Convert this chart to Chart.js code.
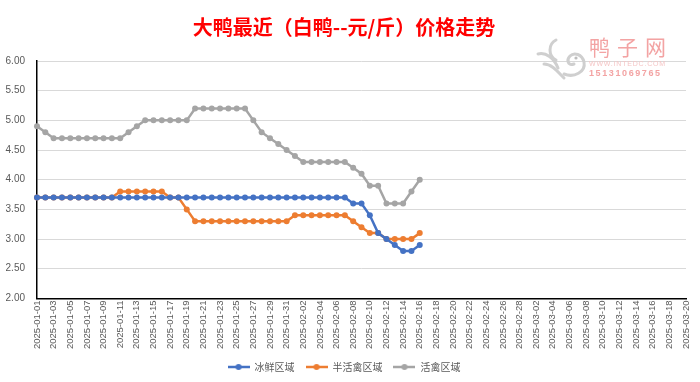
<!DOCTYPE html>
<html>
<head>
<meta charset="utf-8">
<script src="https://cdn.jsdelivr.net/npm/chart.js@4/dist/chart.umd.min.js"></script>
<style>
  html, body { margin: 0; padding: 0; background: #fff; }
  #wrap { position: relative; width: 700px; height: 382px; }
  #mark { position: absolute; left: 589px; top: 33px; font-family: "Noto Sans CJK SC", sans-serif; color: #f3a3a3; pointer-events: none; }
  #mark .big { font-size: 21px; letter-spacing: 7px; line-height: 26px; }
  #mark .url { font-size: 7px; color: #f5c6c6; line-height: 9px; letter-spacing: 0.8px; font-family: "Liberation Sans", sans-serif; }
  #mark .tel { font-size: 9px; font-weight: bold; line-height: 11px; letter-spacing: 1.6px; font-family: "Liberation Sans", sans-serif; }
  #bird { position: absolute; left: 534px; top: 34px; pointer-events: none; }
</style>
</head>
<body>
<div id="wrap">
  <canvas id="chart" width="700" height="382"></canvas>
  <svg id="bird" width="60" height="48" viewBox="0 0 60 48">
    <g fill="none" stroke="#cfcfcf" stroke-width="3" stroke-linecap="round">
      <path d="M22 6 C14 10 14 22 22 26"/>
      <path d="M4 20 C12 18 20 24 24 34"/>
      <path d="M10 30 C18 30 24 38 30 44"/>
      <path d="M30 40 C40 44 52 38 50 28 C48 20 40 18 36 22 C32 26 34 32 40 30"/>
    </g>
    <circle cx="42" cy="24" r="1.6" fill="#bdbdbd"/>
  </svg>
  <div id="mark">
    <div class="big">鸭子网</div>
    <div class="url">WWW.INTEDC.COM</div>
    <div class="tel">15131069765</div>
  </div>
</div>
<script>
// 日期（横轴类别）
const dates = [
  "2025-01-01","2025-01-02","2025-01-03","2025-01-04","2025-01-05","2025-01-06","2025-01-07","2025-01-08",
  "2025-01-09","2025-01-10","2025-01-11","2025-01-12","2025-01-13","2025-01-14","2025-01-15","2025-01-16",
  "2025-01-17","2025-01-18","2025-01-19","2025-01-20","2025-01-21","2025-01-22","2025-01-23","2025-01-24",
  "2025-01-25","2025-01-26","2025-01-27","2025-01-28","2025-01-29","2025-01-30","2025-01-31","2025-02-01",
  "2025-02-02","2025-02-03","2025-02-04","2025-02-05","2025-02-06","2025-02-07","2025-02-08","2025-02-09",
  "2025-02-10","2025-02-11","2025-02-12","2025-02-13","2025-02-14","2025-02-15","2025-02-16","2025-02-17",
  "2025-02-18","2025-02-19","2025-02-20","2025-02-21","2025-02-22","2025-02-23","2025-02-24","2025-02-25",
  "2025-02-26","2025-02-27","2025-02-28","2025-03-01","2025-03-02","2025-03-03","2025-03-04","2025-03-05",
  "2025-03-06","2025-03-07","2025-03-08","2025-03-09","2025-03-10","2025-03-11","2025-03-12","2025-03-13",
  "2025-03-14","2025-03-15","2025-03-16","2025-03-17","2025-03-18","2025-03-19","2025-03-20"
];

// 冰鲜区域
const iceFresh = [
  3.7,3.7,3.7,3.7,3.7,3.7,3.7,3.7,3.7,3.7,
  3.7,3.7,3.7,3.7,3.7,3.7,3.7,3.7,3.7,3.7,
  3.7,3.7,3.7,3.7,3.7,3.7,3.7,3.7,3.7,3.7,
  3.7,3.7,3.7,3.7,3.7,3.7,3.7,3.7,3.6,3.6,
  3.4,3.1,3.0,2.9,2.8,2.8,2.9
];
// 半活禽区域
const halfLive = [
  3.7,3.7,3.7,3.7,3.7,3.7,3.7,3.7,3.7,3.7,
  3.8,3.8,3.8,3.8,3.8,3.8,3.7,3.7,3.5,3.3,
  3.3,3.3,3.3,3.3,3.3,3.3,3.3,3.3,3.3,3.3,
  3.3,3.4,3.4,3.4,3.4,3.4,3.4,3.4,3.3,3.2,
  3.1,3.1,3.0,3.0,3.0,3.0,3.1
];
// 活禽区域
const live = [
  4.9,4.8,4.7,4.7,4.7,4.7,4.7,4.7,4.7,4.7,
  4.7,4.8,4.9,5.0,5.0,5.0,5.0,5.0,5.0,5.2,
  5.2,5.2,5.2,5.2,5.2,5.2,5.0,4.8,4.7,4.6,
  4.5,4.4,4.3,4.3,4.3,4.3,4.3,4.3,4.2,4.1,
  3.9,3.9,3.6,3.6,3.6,3.8,4.0
];

const seriesNames = ["冰鲜区域", "半活禽区域", "活禽区域"];
const seriesColors = ["#4472C4", "#ED7D31", "#A5A5A5"];

// 图例：线 + 圆点
function legendIcon(color) {
  const c = document.createElement('canvas');
  c.width = 22; c.height = 8;
  const g = c.getContext('2d');
  g.strokeStyle = color; g.lineWidth = 2.5;
  g.beginPath(); g.moveTo(0, 4); g.lineTo(22, 4); g.stroke();
  g.fillStyle = color;
  g.beginPath(); g.arc(11, 4, 3, 0, Math.PI * 2); g.fill();
  return c;
}

const axisFamily = "'Liberation Sans', 'Noto Sans CJK SC', sans-serif";

new Chart(document.getElementById('chart'), {
  type: 'line',
  data: {
    labels: dates,
    datasets: [iceFresh, halfLive, live].map((d, i) => ({
      label: seriesNames[i],
      data: d,
      borderColor: seriesColors[i],
      backgroundColor: seriesColors[i],
      borderWidth: 2.5,
      pointRadius: 3,
      pointBorderWidth: 0,
      tension: 0
    }))
  },
  options: {
    responsive: false,
    animation: false,
    layout: { padding: { left: 2, right: 14, bottom: 0 } },
    plugins: {
      title: {
        display: true,
        text: '大鸭最近（白鸭--元/斤）价格走势',
        color: '#FF0000',
        font: { family: "'Noto Sans CJK SC', sans-serif", size: 20, weight: 'bold' },
        padding: { top: 15, bottom: 22 }
      },
      legend: {
        position: 'bottom',
        labels: {
          usePointStyle: true,
          pointStyleWidth: 22,
          boxHeight: 8,
          color: '#595959',
          font: { family: "'Noto Sans CJK SC', sans-serif", size: 10 },
          padding: 11,
          generateLabels: chart => chart.data.datasets.map((ds, i) => ({
            text: ds.label,
            fillStyle: ds.borderColor,
            strokeStyle: ds.borderColor,
            fontColor: '#595959',
            pointStyle: legendIcon(ds.borderColor),
            datasetIndex: i,
            hidden: false
          }))
        }
      },
      tooltip: { enabled: false }
    },
    scales: {
      x: {
        offset: false,
        grid: { display: false, drawTicks: false },
        border: { color: '#000', width: 1.5 },
        ticks: {
          autoSkip: false,
          maxRotation: 90,
          minRotation: 90,
          color: '#595959',
          font: { family: axisFamily, size: 9.5 },
          padding: 2,
          callback: function (v, i) { return i % 2 === 0 ? this.getLabelForValue(v) : null; }
        }
      },
      y: {
        min: 2, max: 6,
        afterFit: s => { s.width = 35; },
        grid: { color: '#D9D9D9', drawTicks: false },
        border: { color: '#000', width: 1.5 },
        ticks: {
          stepSize: 0.5,
          color: '#595959',
          font: { family: axisFamily, size: 10 },
          padding: 12,
          callback: v => v.toFixed(2)
        }
      }
    }
  }
});
</script>
</body>
</html>
